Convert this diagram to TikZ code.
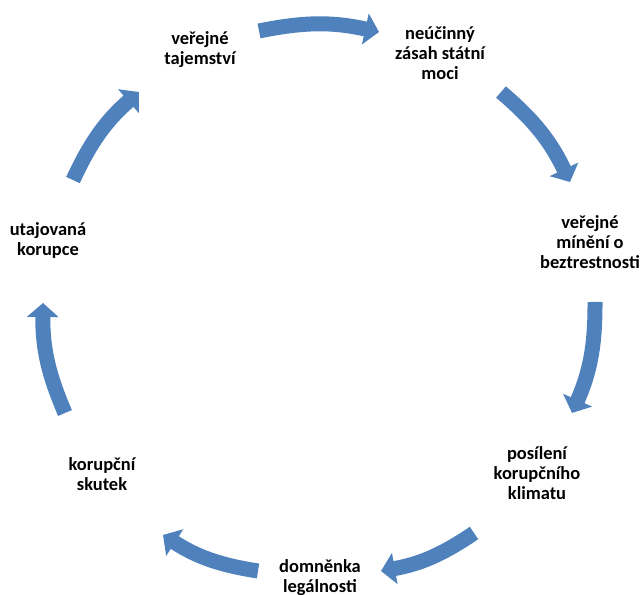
\documentclass[tikz,border=0pt]{standalone}
\usepackage{fontspec}
\setmainfont{Carlito}
\usetikzlibrary{arrows.meta}
\definecolor{modra}{RGB}{79,129,189}
\begin{document}
\begin{tikzpicture}[x=0.02cm, y=0.02cm,
    krok/.style={align=center, font=\fontsize{10.5}{11.4}\selectfont\bfseries, inner sep=0pt},
    sipka/.style={draw=modra, line width=0.3cm, -{Triangle[width=0.62cm, length=0.28cm]}}]
    \useasboundingbox (0,0) rectangle (643,595);

    % Etapas del ciclo
    \node[krok] (tajemstvi) at (200,545) {veřejné\\tajemství};
    \node[krok] (zasah) at (440,542) {neúčinný\\zásah státní\\moci};
    \node[krok] (mineni) at (590,353) {veřejné\\mínění o\\beztrestnosti};
    \node[krok] (klima) at (537,122) {posílení\\korupčního\\klimatu};
    \node[krok] (domnenka) at (320,17) {domněnka\\legálnosti};
    \node[krok] (skutek) at (102,121) {korupční\\skutek};
    \node[krok] (korupce) at (48,355) {utajovaná\\korupce};

    % Extremos de las flechas
    \coordinate (z1) at (259,564); \coordinate (k1) at (379,563);
    \coordinate (z2) at (501,503); \coordinate (k2) at (570,413);
    \coordinate (z3) at (595,293); \coordinate (k3) at (572,182);
    \coordinate (z4) at (474,62);  \coordinate (k4) at (381,24);
    \coordinate (z5) at (258,24);  \coordinate (k5) at (163,60);
    \coordinate (z6) at (65,182);  \coordinate (k6) at (43,292);
    \coordinate (z7) at (73,415);  \coordinate (k7) at (139,503);

    % Flechas del ciclo
    \draw[sipka] (z1) to[bend left=12] (k1);
    \draw[sipka] (z2) to[bend left=12] (k2);
    \draw[sipka] (z3) to[bend left=12] (k3);
    \draw[sipka] (z4) to[bend left=12] (k4);
    \draw[sipka] (z5) to[bend left=12] (k5);
    \draw[sipka] (z6) to[bend left=12] (k6);
    \draw[sipka] (z7) to[bend left=12] (k7);
\end{tikzpicture}
\end{document}
